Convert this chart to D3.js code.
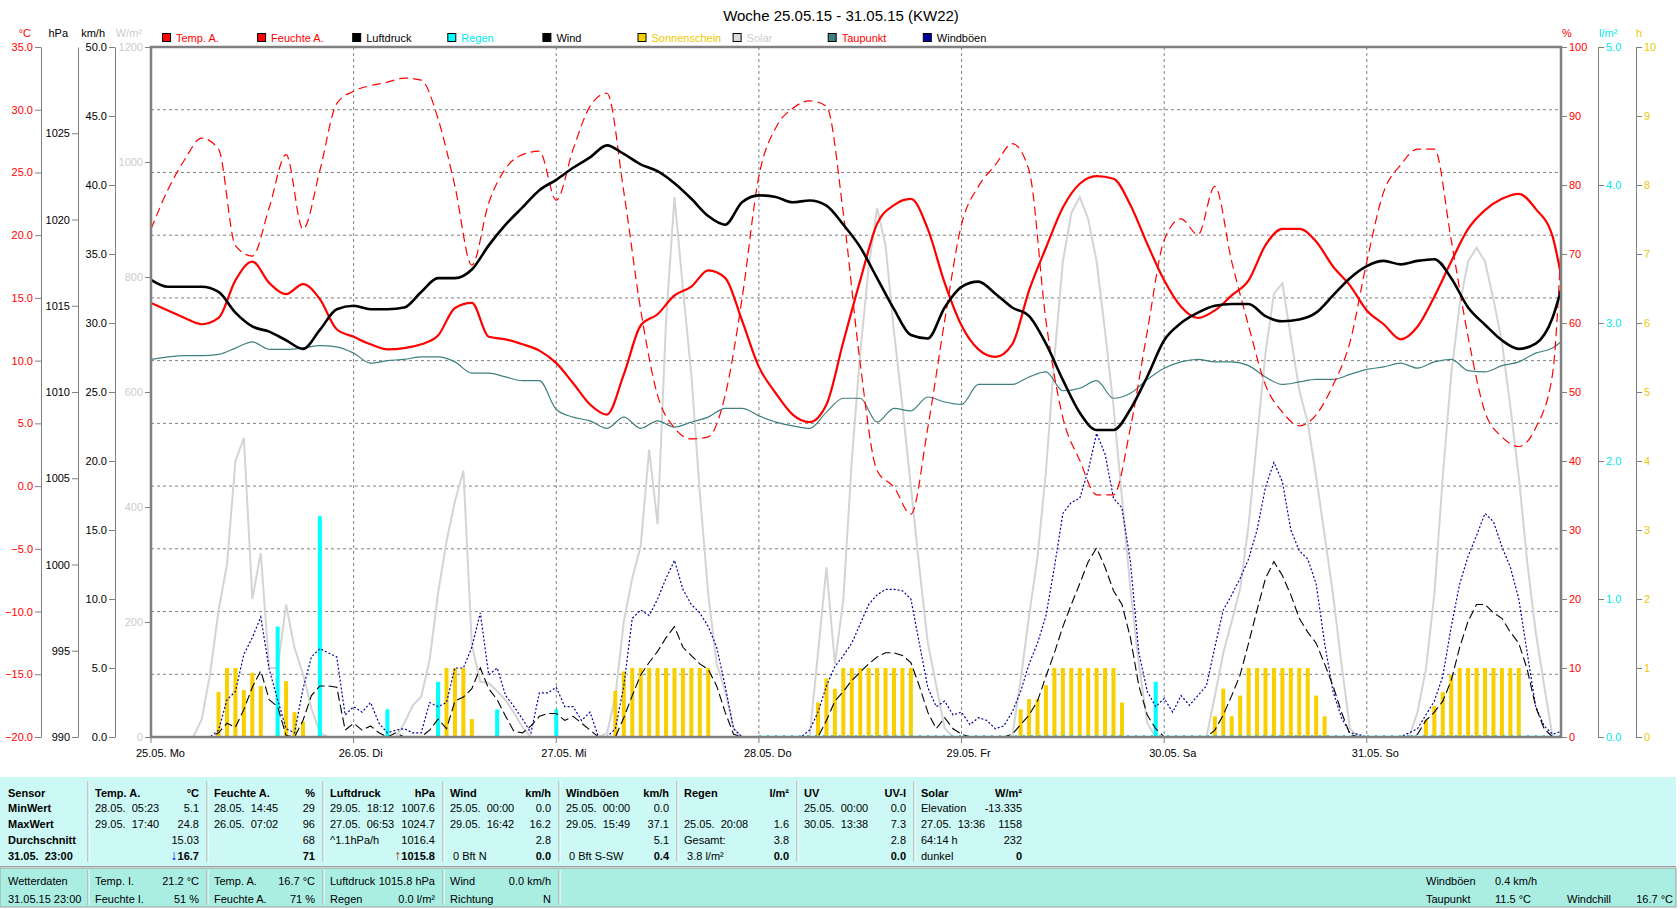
<!DOCTYPE html>
<html>
<head>
<meta charset="utf-8">
<title>Woche 25.05.15 - 31.05.15</title>
<script src="https://d3js.org/d3.v7.min.js"></script>
<style>
  body { margin: 0; background: #fff; }
  svg text { font-family: "Liberation Sans", Arial, sans-serif; white-space: pre; }
</style>
</head>
<body>
<svg id="chart" width="1680" height="909"></svg>
<script>
// ---- data: 2-hourly values from 25.05. 00:00 ----
var tempA = [
  14.6,14.0,13.4,12.9,13.4,16.4,17.9,16.2,15.3,16.1,14.9,12.5,
  11.9,11.3,10.9,11.0,11.3,12.0,14.2,14.6,11.9,11.7,11.3,10.8,
  9.8,8.2,6.5,5.7,8.9,12.8,13.7,15.2,15.9,17.2,16.6,13.2,
  9.5,7.4,5.7,5.1,6.5,11.5,16.4,20.9,22.4,22.9,20.5,16.2,
  12.8,10.9,10.3,11.3,15.6,19.0,22.2,24.1,24.7,24.5,22.4,19.3,
  16.4,14.3,13.4,14.0,15.2,16.4,19.2,20.5,20.5,19.5,17.5,16.0,
  14.0,12.9,11.7,12.7,15.1,17.9,20.5,22.0,22.9,23.3,22.1,19.9,
  16.8];
var feuchteA = [
  73.6,79.3,83.7,86.8,85.2,71.2,69.7,76.7,84.4,73.6,82.1,91.8,
  93.6,94.4,94.9,95.5,95.2,89.6,79.8,68.4,77.4,82.4,84.4,84.9,
  77.8,85.2,91.4,93.3,79.0,61.9,49.5,44.8,43.2,43.5,49.5,63.5,
  81.3,88.3,91.1,92.2,91.4,75.9,54.1,38.6,36.2,32.3,44.8,60.3,
  74.3,79.8,82.9,86.0,82.1,60.3,46.3,40.1,35.1,35.1,44.8,58.8,
  72.0,75.1,72.8,79.8,68.9,59.6,51.0,47.1,45.1,46.7,51.0,57.2,
  68.9,79.0,82.9,85.2,85.2,72.0,58.0,47.1,43.5,42.1,44.8,52.6,
  71.1];
var luftdruck = [
  1016.5,1016.1,1016.1,1016.1,1015.8,1014.6,1013.8,1013.5,1013.0,1012.5,1013.6,1014.8,
  1015.0,1014.8,1014.8,1014.9,1015.8,1016.6,1016.6,1017.1,1018.5,1019.7,1020.7,1021.7,
  1022.3,1023.0,1023.6,1024.3,1023.8,1023.2,1022.8,1022.1,1021.2,1020.2,1019.7,1021.0,
  1021.4,1021.3,1021.0,1021.1,1020.8,1019.7,1018.4,1016.6,1014.8,1013.3,1013.1,1014.9,
  1016.1,1016.4,1015.7,1014.9,1014.4,1012.8,1010.7,1008.8,1007.8,1007.8,1009.0,1010.9,
  1013.0,1014.0,1014.6,1015.0,1015.1,1015.1,1014.4,1014.1,1014.2,1014.6,1015.6,1016.6,
  1017.3,1017.6,1017.4,1017.6,1017.7,1016.6,1014.9,1013.9,1013.0,1012.5,1012.8,1014.3,
  1015.9];
var taupunkt = [
  10.1,10.3,10.4,10.4,10.5,11.0,11.5,10.9,10.9,11.0,11.2,11.1,
  10.6,9.8,10.0,10.1,10.3,10.3,9.9,9.0,9.0,8.7,8.4,8.4,
  6.1,5.5,5.2,4.6,5.5,4.6,5.2,4.7,5.1,5.5,6.2,6.2,
  5.6,5.1,4.8,4.6,5.9,7.0,7.0,5.1,6.2,6.0,7.1,6.7,
  6.5,8.1,8.1,8.1,8.7,9.1,7.6,7.8,8.4,7.0,7.4,8.5,
  9.4,9.9,10.1,9.9,9.9,9.6,8.7,8.1,8.3,8.5,8.5,8.9,
  9.3,9.5,9.8,9.4,9.9,10.1,9.2,9.1,9.6,9.9,10.6,11.0,
  11.5];

// ---- hourly values, one row per day ----
var solar = [
  0,0,0,0,0,0,30,110,220,300,480,520,240,320,120,120,230,155,110,50,7,0,0,0,
  0,0,0,0,0,0,24,55,70,134,250,340,410,463,160,96,94,80,64,42,17,0,0,0,
  0,0,0,0,0,0,6,71,201,276,332,500,370,724,939,780,630,425,248,127,80,15,0,0,
  0,0,0,0,0,0,0,146,295,127,239,481,668,817,920,855,705,575,435,295,164,90,15,0,
  0,0,0,0,0,0,0,99,211,313,463,659,827,911,939,901,827,705,575,416,258,127,24,0,
  0,0,0,0,0,0,71,146,201,258,369,519,668,771,789,696,603,547,453,351,248,127,15,0,
  0,0,0,0,0,0,43,118,248,453,631,752,827,851,827,761,687,575,453,304,183,90,0,0];
var wind = [
  0,0,0,0,0,0,0,0,0.3,1.0,0.7,2.0,3.6,4.8,2.7,2.2,0.1,0,1.2,3.0,3.7,3.7,3.6,0.5,
  1.0,0.5,0.8,0.3,0,0.3,0,0,0,0.5,1.3,0.6,2.6,2.9,3.5,5.0,3.5,2.7,1.5,0.4,0.3,0.8,1.5,1.7,
  1.7,1.2,1.5,1.0,0.5,0,0,0,1.4,3.0,4.5,5.4,6.2,7.2,8.0,6.5,5.9,5.3,4.9,3.7,1.8,0.2,0,0,
  0,0,0,0,0,0,0,0,1.2,2.6,3.3,4.1,4.7,5.3,5.8,6.1,6.1,5.9,5.4,3.7,1.8,0.6,1.4,0.6,
  0.2,0,0,0,0,0,0.2,0.9,1.6,2.6,4.4,6.1,8.0,9.6,11.1,12.7,13.7,12.3,10.6,9.6,7.2,3.7,1.6,0.6,
  0,0,0,0,0,0,0.5,1.6,3.0,4.5,6.8,9.2,11.5,12.7,11.7,10.3,8.6,7.6,6.8,5.3,3.7,1.8,0.2,0,
  0,0,0,0,0,0,0.2,1.2,1.8,2.6,4.1,6.5,8.4,9.6,9.6,9.0,8.6,7.6,6.8,4.9,2.2,0.6,0,0];
var windboeen = [
  0,0,0,0,0,0,0,0,0.5,2.7,3.3,6.0,7.2,8.7,4.9,2.7,0.6,0.3,3.5,5.8,6.4,6.1,5.8,1.6,
  2.2,1.8,2.5,1.0,0.3,0.5,0.6,0.3,0.3,2.5,2.2,2.5,5.0,5.0,6.5,9.0,4.5,5.0,3.0,2.2,1.3,0.3,3.2,3.2,
  3.6,2.2,2.2,1.2,1.8,0,0,0.6,3.7,8.6,9.2,8.8,10.0,11.5,12.8,10.7,9.6,9.0,8.0,6.5,3.7,0.6,0,0,
  0,0,0,0,0,0,0.5,1.8,3.7,5.1,5.9,6.8,8.2,9.6,10.3,10.7,10.7,10.6,10.0,6.8,3.6,2.2,2.6,1.6,
  1.8,0.9,1.4,1.2,0.6,0.8,1.8,3.3,5.3,6.8,8.8,12.3,16.2,17.0,17.3,19.3,22.0,20.5,17.3,16.6,12.7,6.1,3.3,2.2,
  2.8,1.8,3.0,2.3,3.0,3.7,6.5,9.2,10.3,11.5,12.9,15.0,18.1,19.9,18.5,15.0,13.5,12.9,11.1,6.8,3.3,1.4,0.3,0.2,
  0,0,0,0,0,0.3,0.6,1.6,2.6,4.4,8.0,11.1,13.1,14.6,16.2,15.6,13.8,12.3,10.0,6.1,2.2,0.8,0.2,0.4];
var sonnenschein = [
  0,0,0,0,0,0,0,0,0.65,1,1,0.68,0.93,0.74,0,0.05,0.81,0.36,0.22,0,0,0,0,0,
  0,0,0,0,0,0,0,0,0,0,0.68,1,1,1,0.26,0,0,0,0,0,0,0,0,0,
  0,0,0,0,0,0,0,0.67,0.95,1,1,1,1,1,1,1,1,1,1,0,0,0,0,0,
  0,0,0,0,0,0,0,0.5,0.85,0.7,1,1,1,1,1,1,1,1,1,0,0,0,0,0,
  0,0,0,0,0,0,0,0.4,0.55,0.55,0.75,1,1,1,1,1,1,1,1,0.5,0,0,0,0,
  0,0,0,0,0,0,0.3,0.7,0.3,0.6,1,1,1,1,1,1,1,1,0.6,0.3,0,0,0,0,
  0,0,0,0,0,0,0,0.25,0.45,0.65,0.9,1,1,1,1,1,1,1,1,0,0,0,0,0];
// rain: hour index and amount
var regenStunde = [15, 20, 28, 34, 41, 48, 119];
var regenMenge  = [0.8, 1.6, 0.2, 0.4, 0.2, 0.2, 0.4];

var dayLabels = ["25.05. Mo","26.05. Di","27.05. Mi","28.05. Do","29.05. Fr","30.05. Sa","31.05. So"];

var svg = d3.select("#chart");
var GREY = "#808080";
var x = d3.scaleLinear().domain([0, 167]).range([151, 1561]);
var yT = d3.scaleLinear().domain([-20, 35]).range([737, 47]);
var yP = d3.scaleLinear().domain([990, 1030]).range([737, 47]);
var yW = d3.scaleLinear().domain([0, 50]).range([737, 47]);
var yS = d3.scaleLinear().domain([0, 1200]).range([737, 47]);
var yH = d3.scaleLinear().domain([0, 100]).range([737, 47]);
var yR = d3.scaleLinear().domain([0, 5]).range([737, 47]);
var ySun = d3.scaleLinear().domain([0, 10]).range([737, 47]);

function t2(i) { return Math.min(i * 2, 167); }

// title
svg.append("text").attr("x", 841).attr("y", 20.5).attr("text-anchor", "middle")
   .attr("font-size", 15).text("Woche 25.05.15 - 31.05.15 (KW22)");

// grid
svg.append("g").selectAll("line").data(d3.range(-15, 35, 5)).join("line")
   .attr("x1", 151).attr("x2", 1561).attr("y1", function(d){ return yT(d); }).attr("y2", function(d){ return yT(d); })
   .attr("stroke", GREY).attr("stroke-dasharray", "3,3");
svg.append("g").selectAll("line").data(d3.range(1, 7)).join("line")
   .attr("x1", function(d){ return x(d*24); }).attr("x2", function(d){ return x(d*24); })
   .attr("y1", 47).attr("y2", 737)
   .attr("stroke", GREY).attr("stroke-dasharray", "3,3");

// axes
function axis(xpos, scale, vals, fmt, color, left) {
  var a = (left ? d3.axisLeft(scale) : d3.axisRight(scale))
    .tickValues(vals).tickFormat(fmt).tickSize(6).tickPadding(2).tickSizeOuter(0);
  var g = svg.append("g").attr("transform", "translate(" + xpos + ",0)").call(a)
    .attr("font-size", 11).attr("font-family", '"Liberation Sans", Arial, sans-serif');
  g.select(".domain").attr("stroke", GREY);
  g.selectAll(".tick line").attr("stroke", GREY);
  g.selectAll(".tick text").attr("fill", color);
}
axis(41, yT, d3.range(-20, 36, 5), d3.format(".1f"), "#ff0000", true);
axis(78, yP, d3.range(990, 1026, 5), d3.format("d"), "#000", true);
axis(115, yW, d3.range(0, 51, 5), d3.format(".1f"), "#000", true);
axis(151, yS, d3.range(0, 1201, 200), d3.format("d"), "#cccccc", true);
axis(1561, yH, d3.range(0, 101, 10), d3.format("d"), "#ff0000", false);
axis(1598, yR, d3.range(0, 5.01, 1), d3.format(".1f"), "#00e8f0", false);
axis(1636, ySun, d3.range(0, 11, 1), d3.format("d"), "#f0c800", false);

// unit labels
[["°C", 31, "#ff0000", "end"], ["hPa", 68, "#000", "end"], ["km/h", 105, "#000", "end"],
 ["W/m²", 142, "#cccccc", "end"], ["%", 1562, "#ff0000", "start"], ["l/m²", 1599, "#00e8f0", "start"],
 ["h", 1636, "#f0c800", "start"]].forEach(function(u){
  svg.append("text").attr("x", u[1]).attr("y", 37).attr("font-size", 11)
     .attr("fill", u[2]).attr("text-anchor", u[3]).text(u[0]);
});

// x axis
var xg = svg.append("g");
xg.selectAll("line").data(d3.range(0, 7)).join("line")
  .attr("x1", function(d){ return x(d*24); }).attr("x2", function(d){ return x(d*24); })
  .attr("y1", 737).attr("y2", 743).attr("stroke", GREY);
xg.selectAll("text").data(dayLabels).join("text")
  .attr("x", function(d, i){ return x(i*24) - 15; }).attr("y", 757)
  .attr("font-size", 11).text(function(d){ return d; });

// legend
var legend = [["Temp. A.", "#ff0000", "#ff0000"], ["Feuchte A.", "#ff0000", "#ff0000"],
  ["Luftdruck", "#000", "#000"], ["Regen", "#00ffff", "#00e8f0"], ["Wind", "#000", "#000"],
  ["Sonnenschein", "#f8d000", "#f0c800"], ["Solar", "#dcdcdc", "#cccccc"],
  ["Taupunkt", "#408080", "#ff0000"], ["Windböen", "#0000a0", "#000"]];
var lg = svg.append("g").selectAll("g").data(legend).join("g")
  .attr("transform", function(d, i){ return "translate(" + (162 + i * 95.1) + ",0)"; });
lg.append("rect").attr("x", 0.5).attr("y", 33.5).attr("width", 8).attr("height", 8)
  .attr("fill", function(d){ return d[1]; }).attr("stroke", "#000");
lg.append("text").attr("x", 14).attr("y", 42).attr("font-size", 11)
  .attr("fill", function(d){ return d[2]; }).text(function(d){ return d[0]; });

// plot contents
var plot = svg.append("g");
var hourly = function(arr){ return arr.map(function(v, i){ return [i, v]; }); };

plot.append("path").datum(hourly(solar))
  .attr("d", d3.line().x(function(d){ return x(d[0]); }).y(function(d){ return yS(d[1]); }))
  .attr("fill", "none").attr("stroke", "#d4d4d4").attr("stroke-width", 2);

plot.append("g").selectAll("rect").data(hourly(sonnenschein).filter(function(d){ return d[1] > 0; }))
  .join("rect").attr("x", function(d){ return x(d[0]) - 2; }).attr("width", 4)
  .attr("y", function(d){ return ySun(d[1]); }).attr("height", function(d){ return ySun(0) - ySun(d[1]); })
  .attr("fill", "#f8d000");

plot.append("line").attr("x1", x(72)).attr("x2", x(167)).attr("y1", yR(0) - 1).attr("y2", yR(0) - 1)
  .attr("stroke", "#00e8f0").attr("stroke-width", 2).attr("stroke-dasharray", "2,6");

plot.append("g").selectAll("rect").data(regenStunde).join("rect")
  .attr("x", function(d){ return x(d) - 2; }).attr("width", 4)
  .attr("y", function(d, i){ return yR(regenMenge[i]); })
  .attr("height", function(d, i){ return yR(0) - yR(regenMenge[i]); })
  .attr("fill", "#00ffff");

plot.append("path").datum(hourly(windboeen))
  .attr("d", d3.line().x(function(d){ return x(d[0]); }).y(function(d){ return yW(d[1]); }))
  .attr("fill", "none").attr("stroke", "#0000a0").attr("stroke-width", 1.2).attr("stroke-dasharray", "2,2");

plot.append("path").datum(hourly(wind))
  .attr("d", d3.line().x(function(d){ return x(d[0]); }).y(function(d){ return yW(d[1]); }))
  .attr("fill", "none").attr("stroke", "#000").attr("stroke-width", 1.1).attr("stroke-dasharray", "9,4");

function smooth(arr, scale, color, width, dash) {
  var p = plot.append("path").datum(arr.map(function(v, i){ return [t2(i), v]; }))
    .attr("d", d3.line().curve(d3.curveMonotoneX).x(function(d){ return x(d[0]); }).y(function(d){ return scale(d[1]); }))
    .attr("fill", "none").attr("stroke", color).attr("stroke-width", width);
  if (dash) p.attr("stroke-dasharray", dash);
}
smooth(taupunkt, yT, "#408080", 1.2);
smooth(feuchteA, yH, "#ff0000", 1.2, "9,5");
smooth(tempA, yT, "#ff0000", 2.2);
smooth(luftdruck, yP, "#000", 2.6);

// frame
svg.append("rect").attr("x", 151).attr("y", 47).attr("width", 1410).attr("height", 690)
  .attr("fill", "none").attr("stroke", GREY).attr("stroke-width", 2.5);

// ---- table ----
var tab = svg.append("g").attr("font-size", 11);
tab.append("rect").attr("x", 0).attr("y", 777).attr("width", 1676).attr("height", 89).attr("fill", "#ccf9f5");
tab.append("rect").attr("x", 0).attr("y", 868).attr("width", 1676).attr("height", 39).attr("fill", "#aaeee3")
  .attr("stroke", "#a0a0a0");
tab.append("line").attr("x1", 0).attr("x2", 1676).attr("y1", 866.5).attr("y2", 866.5).attr("stroke", "#a0a0a0");

var colX = [0, 88, 207, 323, 443, 559, 677, 797, 914];
var rowY = [796.5, 812.4, 828.3, 844.2, 860.1];
var rowY2 = [885, 902.5];

colX.slice(1).forEach(function(cx){
  tab.append("line").attr("x1", cx).attr("x2", cx).attr("y1", 781).attr("y2", 862).attr("stroke", "#a0a0a0");
  tab.append("line").attr("x1", cx + 1).attr("x2", cx + 1).attr("y1", 781).attr("y2", 862).attr("stroke", "#fff");
});
colX.slice(1, 6).forEach(function(cx){
  tab.append("line").attr("x1", cx).attr("x2", cx).attr("y1", 870).attr("y2", 905).attr("stroke", "#a0a0a0");
  tab.append("line").attr("x1", cx + 1).attr("x2", cx + 1).attr("y1", 870).attr("y2", 905).attr("stroke", "#fff");
});

var colLeft = [
  ["Sensor", "MinWert", "MaxWert", "Durchschnitt", "31.05.  23:00"],
  ["Temp. A.", "28.05.  05:23", "29.05.  17:40", "", ""],
  ["Feuchte A.", "28.05.  14:45", "26.05.  07:02", "", ""],
  ["Luftdruck", "29.05.  18:12", "27.05.  06:53", "^1.1hPa/h", ""],
  ["Wind", "25.05.  00:00", "29.05.  16:42", "", " 0 Bft N"],
  ["Windböen", "25.05.  00:00", "29.05.  15:49", "", " 0 Bft S-SW"],
  ["Regen", "", "25.05.  20:08", "Gesamt:", " 3.8 l/m²"],
  ["UV", "25.05.  00:00", "30.05.  13:38", "", ""],
  ["Solar", "Elevation", "27.05.  13:36", "64:14 h", "dunkel"]];
var colRight = [
  ["", "", "", "", ""],
  ["°C", "5.1", "24.8", "15.03", "16.7"],
  ["%", "29", "96", "68", "71"],
  ["hPa", "1007.6", "1024.7", "1016.4", "1015.8"],
  ["km/h", "0.0", "16.2", "2.8", "0.0"],
  ["km/h", "0.0", "37.1", "5.1", "0.4"],
  ["l/m²", "", "1.6", "3.8", "0.0"],
  ["UV-I", "0.0", "7.3", "2.8", "0.0"],
  ["W/m²", "-13.335", "1158", "232", "0"]];
var arrows = {1: ["↓", "#0000ff"], 3: ["↑", "#903000"]};

colLeft.forEach(function(rows, c){
  var lx = c === 0 ? 8 : colX[c] + 7;
  var rx = c === 8 ? 1022 : colX[c + 1] - 8;
  rows.forEach(function(s, r){
    if (s) tab.append("text").attr("x", lx).attr("y", rowY[r])
      .attr("font-weight", (c === 0 || r === 0) ? "bold" : "normal").text(s);
    var v = colRight[c][r];
    if (v) {
      var t = tab.append("text").attr("x", rx).attr("y", rowY[r]).attr("text-anchor", "end")
        .attr("font-weight", (r === 0 || r === 4) ? "bold" : "normal");
      if (r === 4 && arrows[c]) t.append("tspan").attr("fill", arrows[c][1]).attr("font-size", 14).text(arrows[c][0]);
      t.append("tspan").text(v);
    }
  });
});

var bottomLeft = [["Wetterdaten", "31.05.15 23:00"], ["Temp. I.", "Feuchte I."], ["Temp. A.", "Feuchte A."],
  ["Luftdruck", "Regen"], ["Wind", "Richtung"]];
var bottomRight = [["", ""], ["21.2 °C", "51 %"], ["16.7 °C", "71 %"], ["1015.8 hPa", "0.0 l/m²"], ["0.0 km/h", "N"]];
bottomLeft.forEach(function(rows, c){
  var lx = c === 0 ? 8 : colX[c] + 7;
  var rx = colX[c + 1] - 8;
  rows.forEach(function(s, r){
    tab.append("text").attr("x", lx).attr("y", rowY2[r]).text(s);
    if (bottomRight[c][r]) tab.append("text").attr("x", rx).attr("y", rowY2[r]).attr("text-anchor", "end").text(bottomRight[c][r]);
  });
});
[["Windböen", 1426, 885, "start"], ["0.4 km/h", 1495, 885, "start"],
 ["Taupunkt", 1426, 902.5, "start"], ["11.5 °C", 1495, 902.5, "start"],
 ["Windchill", 1567, 902.5, "start"], ["16.7 °C", 1673, 902.5, "end"]].forEach(function(d){
  tab.append("text").attr("x", d[1]).attr("y", d[2]).attr("text-anchor", d[3]).text(d[0]);
});
</script>
</body>
</html>
